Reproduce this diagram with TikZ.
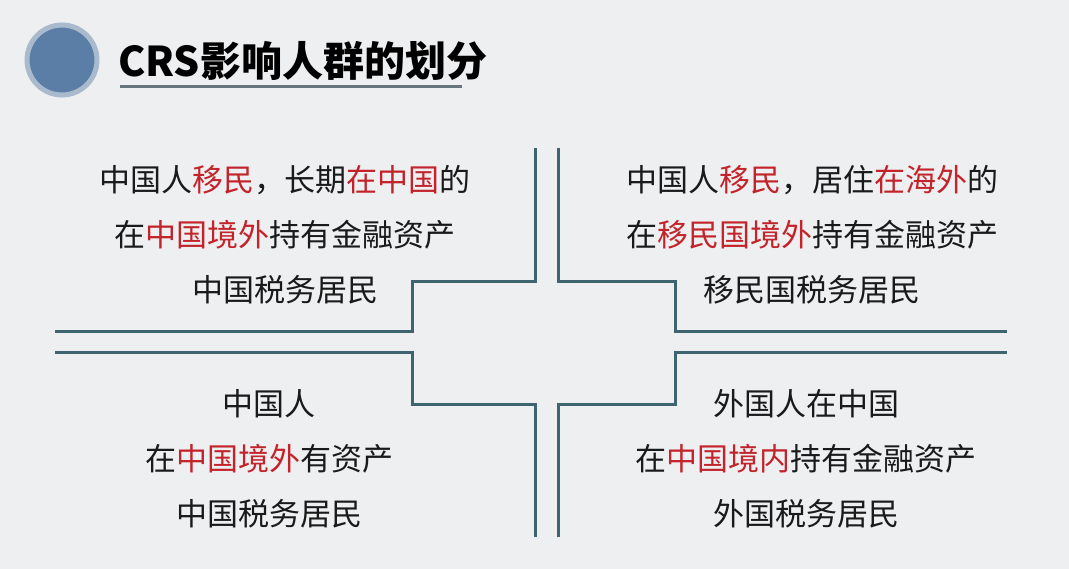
\documentclass[tikz,border=0pt]{standalone}
\usepackage{fontspec}
\setmainfont{Noto Sans CJK SC}
\usetikzlibrary{positioning}
\definecolor{bgc}{HTML}{EEEFF1}
\definecolor{linec}{HTML}{3E6470}
\definecolor{redc}{HTML}{C3232A}
\definecolor{txtc}{HTML}{1A1A1A}
\definecolor{dotc}{HTML}{5B7EA6}
\definecolor{ringc}{HTML}{AABACD}
\newcommand\hl[1]{\textcolor{redc}{#1}}

\begin{document}
\begin{tikzpicture}[x=1pt,y=-1pt,
  bracket/.style={draw=linec,line width=3pt},
  txt/.style={font=\fontsize{31}{55}\selectfont,text=txtc,align=center}]
\fill[bgc] (0,0) rectangle (1069,569);
\useasboundingbox (0,0) rectangle (1069,569);
% title
\draw[ringc,line width=5pt,fill=dotc] (62,60) circle (35);
\node[font=\fontsize{41}{44}\selectfont\bfseries,text=black,anchor=west,inner sep=0pt] (title) at (118,61) {CRS影响人群的划分};
\draw[line width=3pt,draw=linec!60!black!70] (120,87) -- (462,87);
% corner points
\coordinate (a1) at (55,332);   \coordinate (a2) at (412,332);
\coordinate (a3) at (412,282);  \coordinate (a4) at (535,282);
\coordinate (a5) at (535,148);
\coordinate (b1) at (558,148);  \coordinate (b2) at (558,282);
\coordinate (b3) at (675,282);  \coordinate (b4) at (675,332);
\coordinate (b5) at (1007,332);
\coordinate (c1) at (55,353);   \coordinate (c2) at (412,353);
\coordinate (c3) at (412,405);  \coordinate (c4) at (535,405);
\coordinate (c5) at (535,537);
\coordinate (d1) at (558,537);  \coordinate (d2) at (558,405);
\coordinate (d3) at (675,405);  \coordinate (d4) at (675,353);
\coordinate (d5) at (1007,353);
\draw[bracket] (a1) -- (a2) -- (a3) -- (a4) -- (a5);
\draw[bracket] (b1) -- (b2) -- (b3) -- (b4) -- (b5);
\draw[bracket] (c1) -- (c2) -- (c3) -- (c4) -- (c5);
\draw[bracket] (d1) -- (d2) -- (d3) -- (d4) -- (d5);
% quadrants
\node[txt] (tl) at (285,235) {中国人\hl{移民}，长期\hl{在中国}的\\在\hl{中国境外}持有金融资产\\中国税务居民};
\node[txt] (tr) at (812,235) {中国人\hl{移民}，居住\hl{在海外}的\\在\hl{移民国境外}持有金融资产\\移民国税务居民};
\node[txt] (bl) at (269,459) {中国人\\在\hl{中国境外}有资产\\中国税务居民};
\node[txt] (br) at (806,459) {外国人在中国\\在\hl{中国境内}持有金融资产\\外国税务居民};
\end{tikzpicture}
\end{document}
